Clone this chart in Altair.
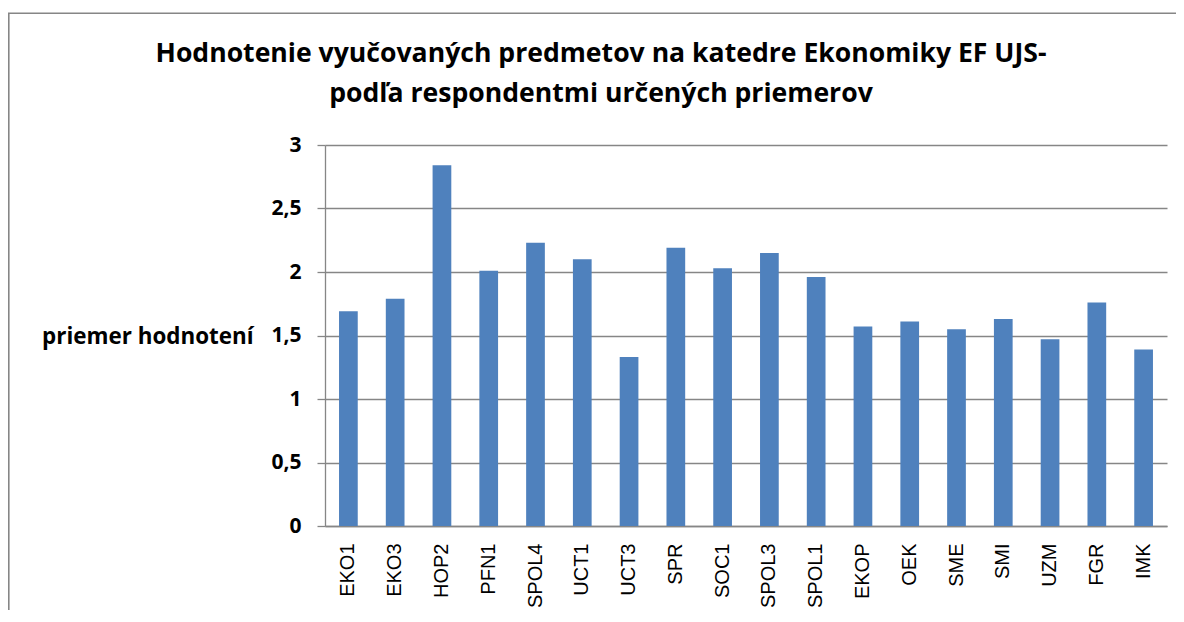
import altair as alt
import pandas as pd

categories = ["EKO1", "EKO3", "HOP2", "PFN1", "SPOL4", "UCT1", "UCT3", "SPR", "SOC1",
              "SPOL3", "SPOL1", "EKOP", "OEK", "SME", "SMI", "UZM", "FGR", "IMK"]
values = [1.69, 1.79, 2.84, 2.01, 2.23, 2.10, 1.33, 2.19, 2.03,
          2.15, 1.96, 1.57, 1.61, 1.55, 1.63, 1.47, 1.76, 1.39]
title_line1 = "Hodnotenie vyučovaných predmetov na katedre Ekonomiky EF UJS-"
title_line2 = "podľa respondentmi určených priemerov"
y_title = "priemer hodnotení"
y_ticks = [0, 0.5, 1, 1.5, 2, 2.5, 3]

df = pd.DataFrame({"predmet": categories, "priemer": values})

W, H = 842, 381
PAD_L, PAD_T, PAD_R, PAD_B = 317, 137, 9, 84
GRAY = "#868686"
BOLD_FONT = "Open Sans"

bars = alt.Chart(df).mark_bar(color="#4F81BD").encode(
    x=alt.X("predmet:N", sort=categories, title=None,
            scale=alt.Scale(paddingInner=0.6, paddingOuter=0.3),
            axis=alt.Axis(labelAngle=-90, labelFont="Liberation Sans", labelFontSize=20,
                          labelColor="black", labelPadding=17, ticks=False,
                          domainColor=GRAY, domainWidth=1.3)),
    y=alt.Y("priemer:Q", title=y_title,
            scale=alt.Scale(domain=[0, 3], nice=False),
            axis=alt.Axis(values=y_ticks, format="~g",
                          labelExpr="replace(datum.label, '.', ',')",
                          labelFont=BOLD_FONT, labelFontWeight="bold", labelFontSize=21,
                          labelColor="black", labelPadding=16,
                          tickSize=8, tickColor=GRAY, tickWidth=1.3,
                          domainColor=GRAY, domainWidth=1.3,
                          gridColor=GRAY, gridWidth=1.3,
                          titleAngle=0, titleAlign="right", titleBaseline="middle",
                          titleX=-72, titleY=H / 2 + 1,
                          titleFont=BOLD_FONT, titleFontWeight="bold", titleFontSize=22.4,
                          titleColor="black")),
)

one = pd.DataFrame({"k": [0]})


def title_text(txt, baseline_y):
    return alt.Chart(one).mark_text(
        font=BOLD_FONT, fontWeight="bold", fontSize=26.6, color="black",
        align="center", baseline="alphabetic", text=txt
    ).encode(x=alt.value(601 - 325), y=alt.value(baseline_y - 145))


frame_left = alt.Chart(one).mark_rule(color=GRAY, strokeWidth=1.6).encode(
    x=alt.value(8.8 - 325), y=alt.value(13.2 - 145), y2=alt.value(H + PAD_B)
)
frame_top = alt.Chart(one).mark_rule(color=GRAY, strokeWidth=1.6).encode(
    x=alt.value(8 - 325), x2=alt.value(W + PAD_R), y=alt.value(13.2 - 145)
)

chart = alt.layer(
    frame_left, frame_top, bars, title_text(title_line1, 62), title_text(title_line2, 102)
).properties(
    width=W, height=H,
    autosize=alt.AutoSizeParams(type="none"),
    padding={"left": PAD_L, "top": PAD_T, "right": PAD_R, "bottom": PAD_B},
    background="white",
).configure_view(stroke=None)

chart.save("out.html", embed_options={"renderer": "svg", "actions": False})
